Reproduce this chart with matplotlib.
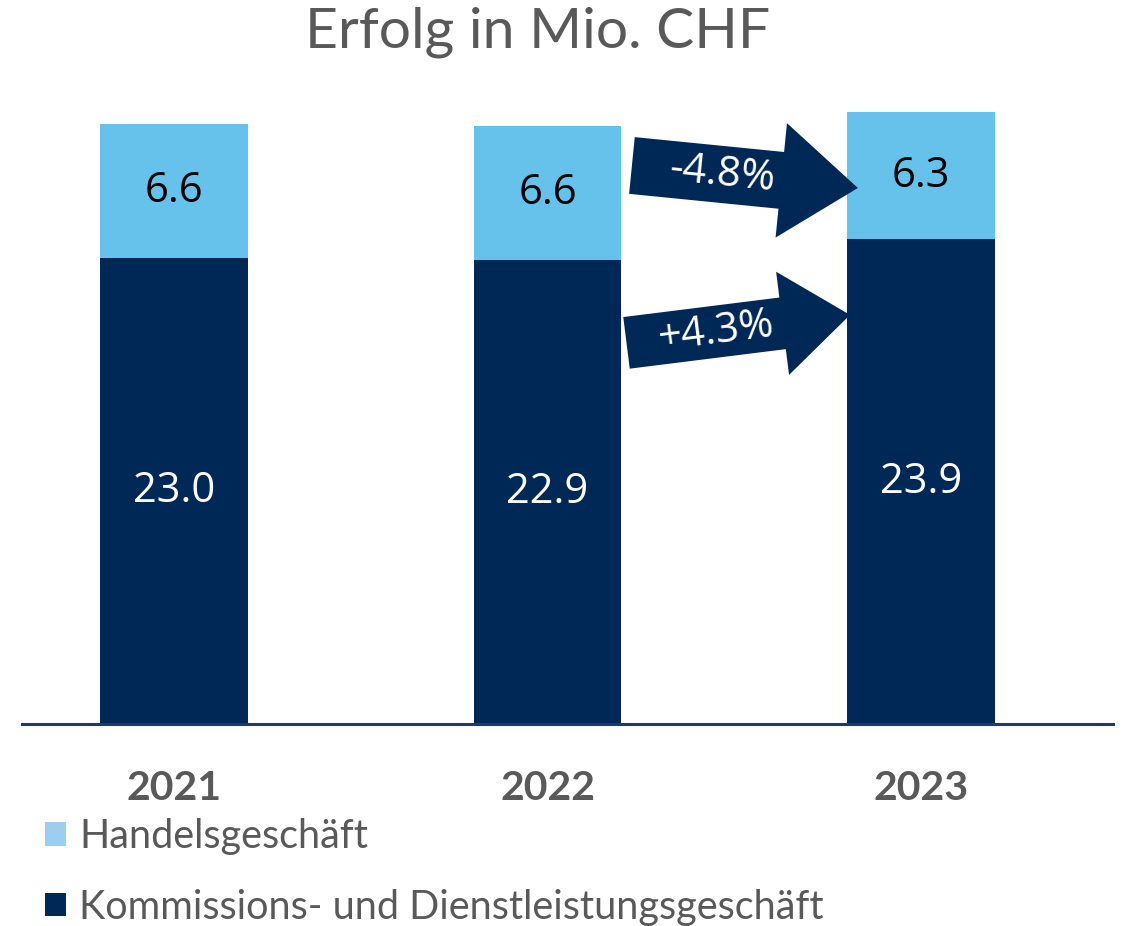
import numpy as np
import matplotlib
matplotlib.use("Agg")
import matplotlib.pyplot as plt
from matplotlib.patches import Polygon, Patch
from matplotlib.transforms import IdentityTransform

# ---- data ----
years = ["2021", "2022", "2023"]
kommission = [23.0, 22.9, 23.9]
handel = [6.6, 6.6, 6.3]
series_names = ["Handelsgeschäft", "Kommissions- und Dienstleistungsgeschäft"]
title = "Erfolg in Mio. CHF"
change_labels = ["-4.8%", "+4.3%"]

# colours
dark = "#002856"
light = "#66C2EB"
light_legend = "#9DCEF0"
grey = "#595959"

FONT = "Lato"
NUMFONT = "Open Sans"

fig = plt.figure(figsize=(11.35, 9.26), dpi=100)
ax = fig.add_axes([22 / 1135, (926 - 724) / 926, (1113 - 22) / 1135, (724 - 100) / 926])

x = np.arange(len(years))
w = 0.396
ax.bar(x, kommission, width=w, color=dark, zorder=2)
ax.bar(x, handel, width=w, bottom=kommission, color=light, zorder=2)

ax.set_xlim(-0.407, 2.514)
ax.set_ylim(0, 30.78)

for xi, k, h in zip(x, kommission, handel):
    ax.text(xi, k / 2, f"{k:.1f}", ha="center", va="center", color="white",
            fontsize=30, family=NUMFONT)
    ax.text(xi, k + h / 2, f"{h:.1f}", ha="center", va="center", color="black",
            fontsize=30, family=NUMFONT)

for s in ["top", "right", "left"]:
    ax.spines[s].set_visible(False)
ax.spines["bottom"].set_color("#1F3A66")
ax.spines["bottom"].set_linewidth(2.2)
ax.set_yticks([])
ax.set_xticks(x)
ax.set_xticklabels(years, fontsize=29.5, fontweight="bold", color=grey, family=FONT)
ax.tick_params(axis="x", length=0, pad=33)

fig.text(0.474, 1 - 32 / 926, title, ha="center", va="center", fontsize=41,
         color=grey, family=FONT)

# ---- block arrows (annotation geometry in data units / pixels) ----
arrows = [
    # tail (x, y), tip (x, y), shaft width px, head width px, head length px
    ((1.226, 27.55), (1.831, 26.44), 57, 115, 77),
    ((1.2115, 18.80), (1.810, 20.18), 52, 104, 68),
]
for (tail, tip, sw, hw, hl), lab in zip(arrows, change_labels):
    p0 = ax.transData.transform(tail)
    p1 = ax.transData.transform(tip)
    d = p1 - p0
    L = np.hypot(*d)
    u = d / L
    n = np.array([-u[1], u[0]])
    j = p1 - u * hl
    verts = [p0 + n * sw / 2, j + n * sw / 2, j + n * hw / 2, p1,
             j - n * hw / 2, j - n * sw / 2, p0 - n * sw / 2]
    fig.add_artist(Polygon(verts, closed=True, facecolor=dark, edgecolor="none",
                           transform=IdentityTransform(), zorder=5))
    c = p0 + u * L * 0.40
    ang = np.degrees(np.arctan2(d[1], d[0]))
    fig.text(c[0] / fig.bbox.width, c[1] / fig.bbox.height, lab, ha="center",
             va="center", rotation=ang, rotation_mode="anchor", color="white",
             fontsize=30, family=NUMFONT, zorder=6)

handles = [Patch(facecolor=light_legend, edgecolor="none"),
           Patch(facecolor=dark, edgecolor="none")]
fig.legend(handles, series_names, loc="upper left",
           bbox_to_anchor=(45 / 1135, 1 - 818 / 926), frameon=False,
           prop={"family": FONT, "size": 28.5}, labelcolor=grey,
           handlelength=0.52, handleheight=0.52, handletextpad=0.35,
           labelspacing=0.85, borderaxespad=0, borderpad=0)

fig.savefig("out.png", dpi=100)
